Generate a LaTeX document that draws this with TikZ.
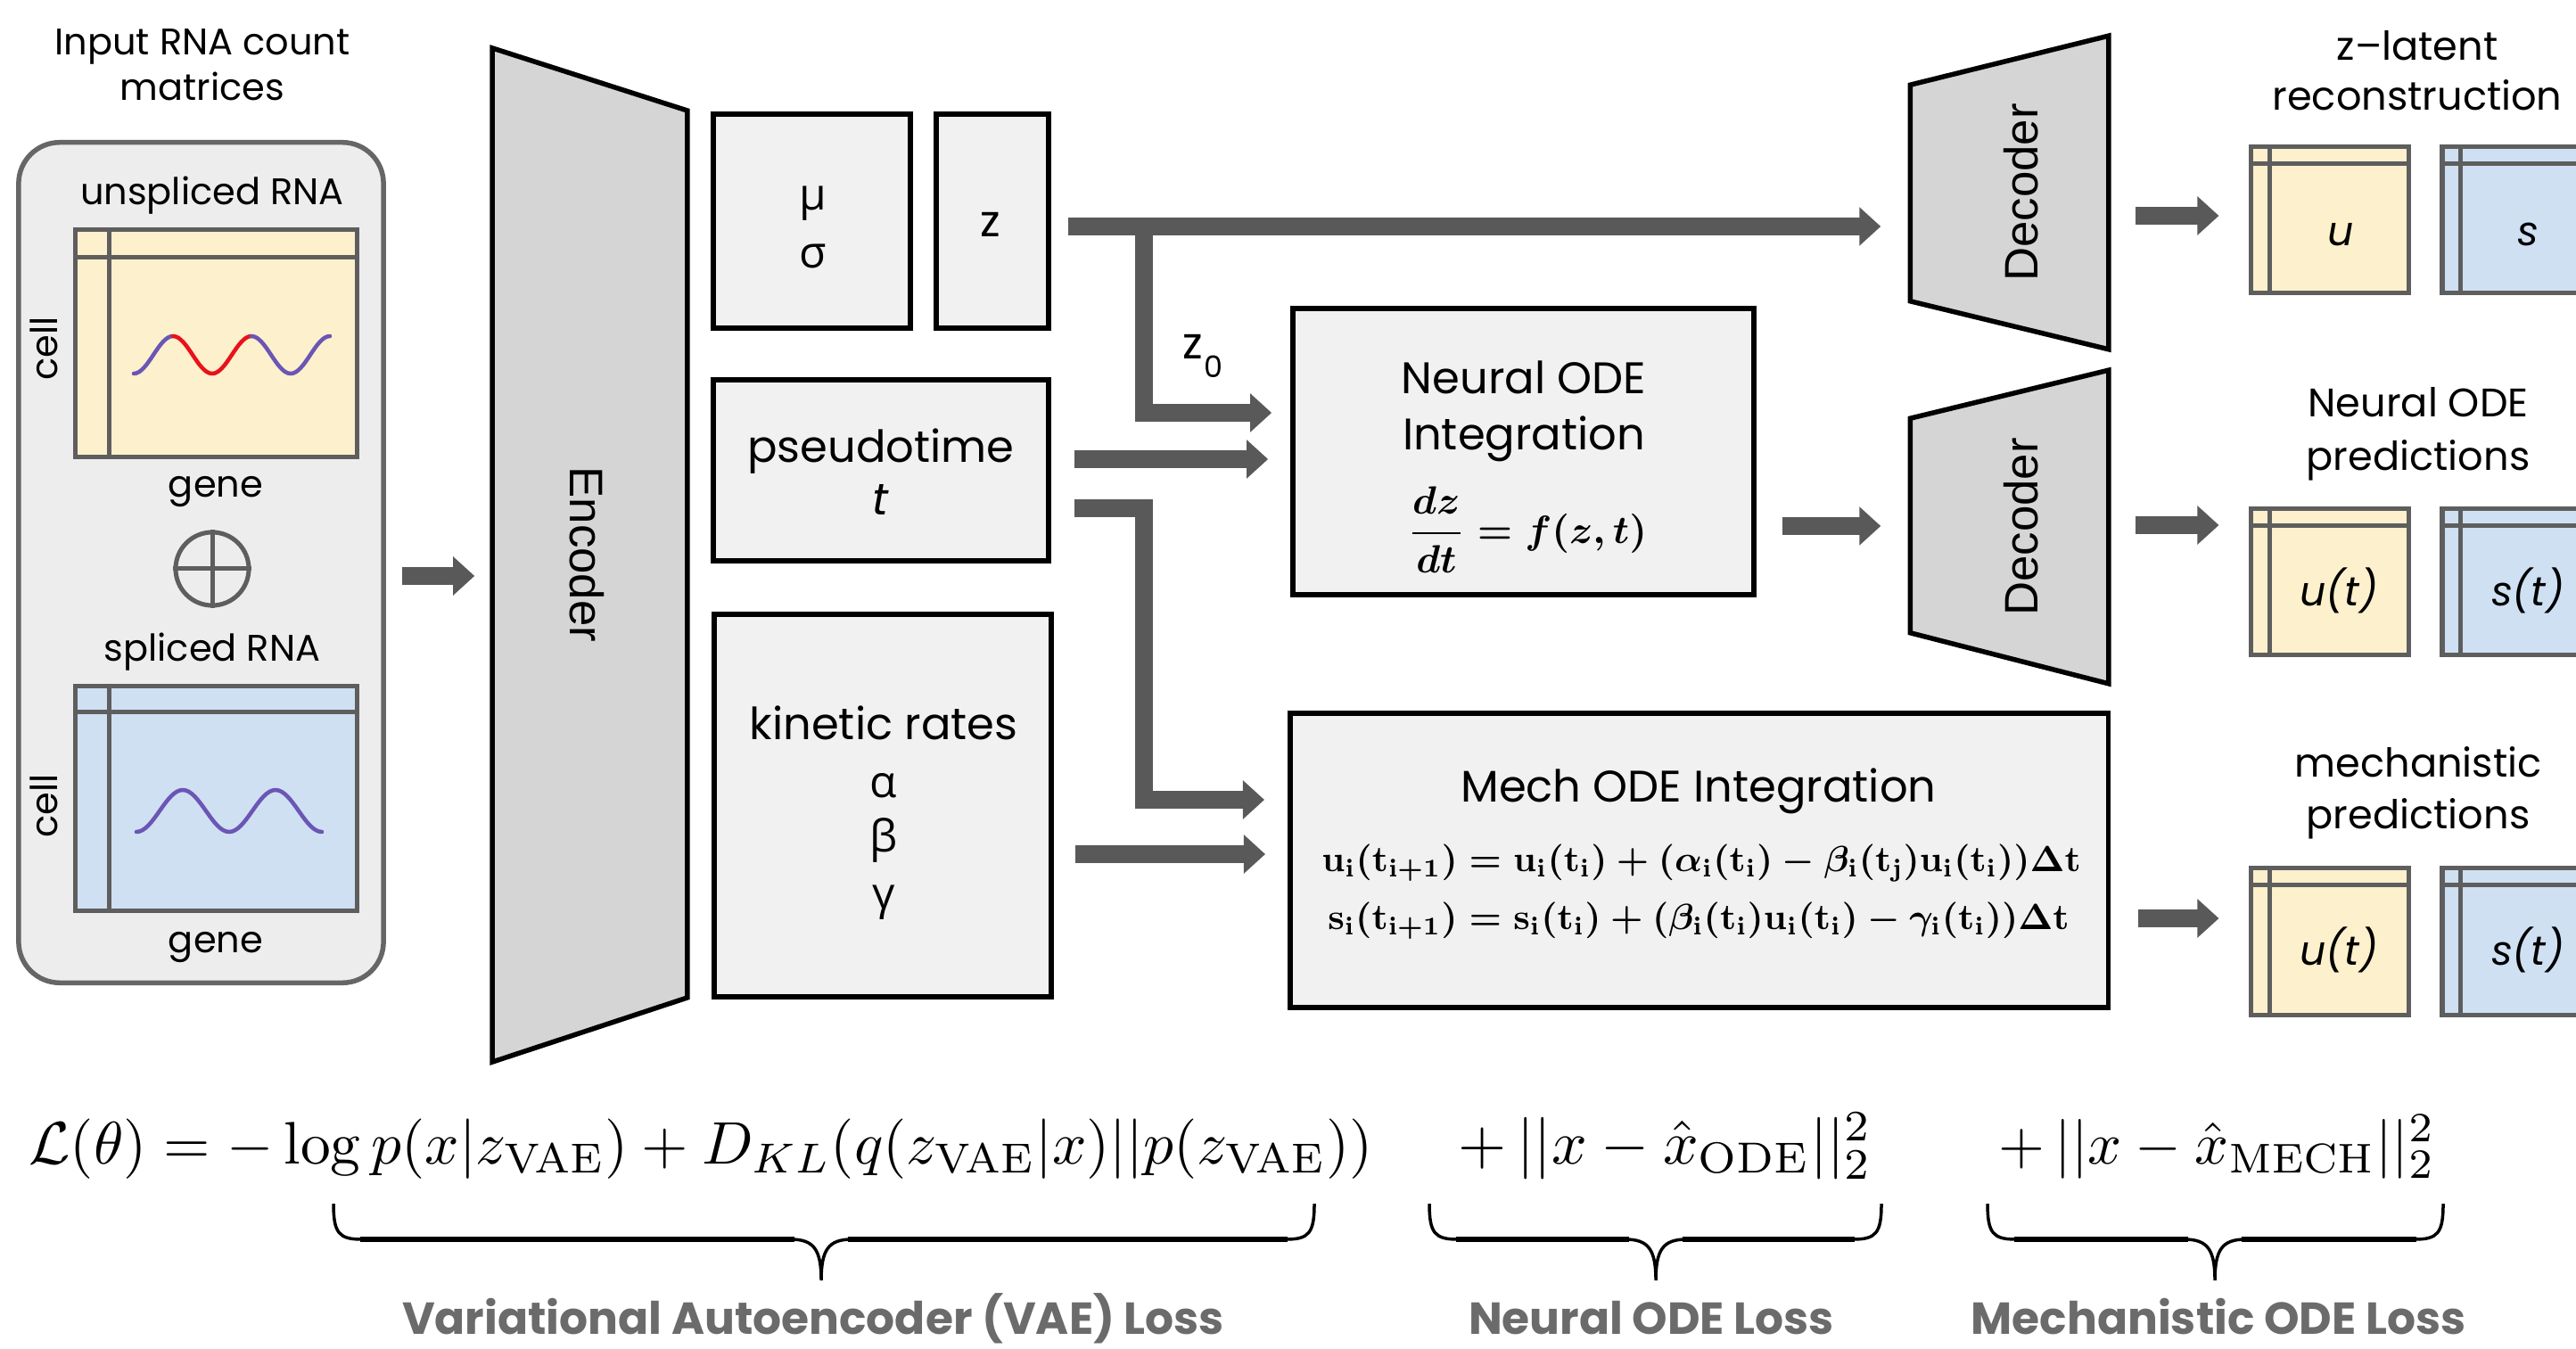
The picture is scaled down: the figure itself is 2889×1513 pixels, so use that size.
\documentclass[tikz,border=0pt]{standalone}
\usepackage[no-math]{fontspec}
\usepackage{amsmath}
\usepackage{graphicx}
\setmainfont{Poppins}
\newfontfamily\greekfont{Open Sans}
\newfontfamily\archfont{Liberation Sans}
\usetikzlibrary{arrows.meta,calc}

\definecolor{arrowgray}{HTML}{595959}
\definecolor{boxfill}{HTML}{F1F1F1}
\definecolor{panelfill}{HTML}{EDEDED}
\definecolor{panelline}{HTML}{666666}
\definecolor{trapfill}{HTML}{D5D5D5}
\definecolor{uyellow}{HTML}{FDF0CC}
\definecolor{sblue}{HTML}{CFE0F3}
\definecolor{gridline}{HTML}{5E5E5E}
\definecolor{wavepurple}{HTML}{6B55B5}
\definecolor{wavered}{HTML}{E8121B}
\definecolor{losstext}{HTML}{6B6B6B}

% grid lines of a count matrix: one column line, one row line
\newcommand\gridlines[3]{%
  \draw[mline] ([xshift=#2*0.01cm]#1.north west) -- ([xshift=#2*0.01cm]#1.south west);
  \draw[mline] ([yshift=-#3*0.01cm]#1.north west) -- ([yshift=-#3*0.01cm]#1.north east);}

% under-brace: left end, right end, tip
\newcommand\lossbrace[3]{%
  \draw[bracethin] (#1,1350) .. controls (#1,1383) and (#1+6,1390) .. (#1+32,1390)
     -- (#3-34,1390) .. controls (#3-8,1390) and (#3,1402) .. (#3,1436)
     .. controls (#3,1402) and (#3+8,1390) .. (#3+34,1390)
     -- (#2-32,1390) .. controls (#2-6,1390) and (#2,1383) .. (#2,1350);
  \draw[bracethick] (#1+30,1390) -- (#3-30,1390) (#3+30,1390) -- (#2-30,1390);}

\begin{document}
\begin{tikzpicture}[x=0.01cm,y=-0.01cm,
  blk/.style={draw=black,line width=0.055cm,fill=boxfill,inner sep=0pt},
  panel/.style={draw=panelline,line width=0.055cm,fill=panelfill,rounded corners=0.46cm,inner sep=0pt},
  mat/.style={draw=gridline,line width=0.05cm,inner sep=0pt},
  mline/.style={draw=gridline,line width=0.05cm},
  trap/.style={draw=black,line width=0.055cm,fill=trapfill,line join=miter},
  frame/.style={inner sep=0pt,draw=none},
  fat/.style={draw=arrowgray,line width=0.2cm,line join=miter,
              -{Triangle[length=0.24cm,width=0.42cm]}},
  wave/.style={line width=0.045cm,line cap=round},
  even/.style={inner sep=0pt,text height=0.72em,text depth=0.22em,yshift=-0.07cm},
  lbl/.style={even,font=\fontsize{11.8}{14}\selectfont},
  rlbl/.style={even,font=\fontsize{12.7}{15}\selectfont},
  btxt/.style={even,font=\fontsize{14.1}{17}\selectfont},
  outtxt/.style={even,font=\fontsize{13}{15}\selectfont\itshape},
  archlbl/.style={inner sep=0pt,font=\fontsize{15}{18}\selectfont\archfont},
  losslbl/.style={even,text=losstext,font=\fontsize{14.3}{17}\selectfont\bfseries},
  bracethin/.style={draw=black,line width=0.035cm},
  bracethick/.style={draw=black,line width=0.065cm},
]
\useasboundingbox (0,0) rectangle (2889,1513);
\clip (0,0) rectangle (2889,1513);
\fill[white] (0,0) rectangle (2889,1513);

% ---------------- input count matrices ----------------
\node[panel,minimum width=4.09cm,minimum height=9.42cm] (panel) at (225.5,631) {};
\node[lbl] (title1) at (227,46) {Input RNA count};
\node[lbl] (title2) at (227,97) {matrices};

\node[lbl] (unsplabel) at (238,214) {unspliced RNA};
\node[mat,fill=uyellow,minimum width=3.15cm,minimum height=2.54cm] (umat) at (242.5,385) {};
\gridlines{umat}{40}{33}
\node[lbl,rotate=90] (ucell) at (56,384) {cell};
\node[lbl] (ugene) at (242,542) {gene};
\draw[wave,wavepurple] (150,419) cos (172,398) sin (194,377);
\draw[wave,wavered] (194,377) cos (216,398) sin (238,419) cos (260,398) sin (282,377);
\draw[wave,wavepurple] (282,377) cos (304,398) sin (326,419) cos (348,398) sin (370,377);

\node[circle,draw=gridline,line width=0.05cm,minimum size=0.82cm,inner sep=0pt] (oplus) at (238,638) {};
\draw[mline] (oplus.north) -- (oplus.south) (oplus.west) -- (oplus.east);

\node[lbl] (spllabel) at (238,726) {spliced RNA};
\node[mat,fill=sblue,minimum width=3.15cm,minimum height=2.51cm] (smat) at (242.5,895.5) {};
\gridlines{smat}{40}{31}
\node[lbl,rotate=90] (scell) at (56,897) {cell};
\node[lbl] (sgene) at (242,1053) {gene};
\draw[wave,wavepurple] (153,933) cos (179,909.5) sin (205,886) cos (231,909.5) sin (257,933)
   cos (283,909.5) sin (309,886) cos (335,909.5) sin (361,933);

% ---------------- encoder ----------------
\node[frame,minimum width=2.17cm,minimum height=11.35cm] (enc) at (661.5,622.5) {};
\draw[trap] (enc.north west) -- ([yshift=-0.7cm]enc.north east)
   -- ([yshift=0.72cm]enc.south east) -- (enc.south west) -- cycle;
\node[archlbl,rotate=-90] (enclbl) at (658,622) {Encoder};

% ---------------- latent outputs of the encoder ----------------
\node[blk,minimum width=2.21cm,minimum height=2.4cm] (musig) at (910.5,248) {};
\node[btxt] (mulbl) at (912,220) {\greekfont μ};
\node[btxt] (sglbl) at (912,285) {\greekfont σ};
\node[blk,minimum width=1.26cm,minimum height=2.4cm] (zbox) at (1113,248) {};
\node[btxt] (zlbl) at (1111,250) {z};

\node[blk,minimum width=3.76cm,minimum height=2.03cm] (pseudo) at (988,527.5) {};
\node[btxt] (pseudo1) at (988,503) {pseudotime};
\node[btxt] (pseudo2) at (988,562) {\itshape t};

\node[blk,minimum width=3.78cm,minimum height=4.29cm] (kinetic) at (990,903.5) {};
\node[btxt] (kin1) at (991,814) {kinetic rates};
\node[btxt] (kin2) at (991,879) {\greekfont α};
\node[btxt] (kin3) at (991,940) {\greekfont β};
\node[btxt] (kin4) at (991,1004) {\greekfont γ};

% ---------------- integrators ----------------
\node[blk,minimum width=5.17cm,minimum height=3.21cm] (neural) at (1708.5,506.5) {};
\node[btxt] (neural1) at (1709,426) {Neural ODE};
\node[btxt] (neural2) at (1709,489) {Integration};
\node[inner sep=0pt] (neuraleq) at (1713,594)
   {\resizebox{2.68cm}{!}{\boldmath$\displaystyle\frac{dz}{dt} = f(z,t)$}};

\node[blk,minimum width=9.17cm,minimum height=3.3cm] (mech) at (1905.5,965) {};
\node[btxt] (mech1) at (1905,884) {Mech ODE Integration};
\node[inner sep=0pt] (mecheq1) at (1908,968)
   {\resizebox{8.51cm}{!}{\boldmath$\mathbf{u_i(t_{i+1})} = \mathbf{u_i(t_i)} + (\alpha_{\mathbf{i}}(\mathbf{t_i}) - \beta_{\mathbf{i}}(\mathbf{t_j})\mathbf{u_i(t_i)})\Delta\mathbf{t}$}};
\node[inner sep=0pt] (mecheq2) at (1905,1033)
   {\resizebox{8.31cm}{!}{\boldmath$\mathbf{s_i(t_{i+1})} = \mathbf{s_i(t_i)} + (\beta_{\mathbf{i}}(\mathbf{t_i})\mathbf{u_i(t_i)} - \gamma_{\mathbf{i}}(\mathbf{t_i}))\Delta\mathbf{t}$}};

% ---------------- decoders ----------------
\node[frame,minimum width=2.21cm,minimum height=3.5cm] (dec1) at (2253.5,216) {};
\draw[trap] ([yshift=-0.55cm]dec1.north west) -- (dec1.north east)
   -- (dec1.south east) -- ([yshift=0.54cm]dec1.south west) -- cycle;
\node[archlbl,rotate=90] (dec1lbl) at (2267,216) {Decoder};

\node[frame,minimum width=2.21cm,minimum height=3.5cm] (dec2) at (2253.5,591) {};
\draw[trap] ([yshift=-0.54cm]dec2.north west) -- (dec2.north east)
   -- (dec2.south east) -- ([yshift=0.57cm]dec2.south west) -- cycle;
\node[archlbl,rotate=90] (dec2lbl) at (2267,591) {Decoder};

% ---------------- reconstructed / predicted matrices ----------------
\node[rlbl] (rt1) at (2711,52) {z–latent};
\node[rlbl] (rt2) at (2711,108) {reconstruction};
\node[mat,fill=uyellow,minimum width=1.76cm,minimum height=1.63cm] (r1u) at (2613,246.5) {};
\gridlines{r1u}{23}{21}
\node[outtxt] (r1ut) at (2625,260) {u};
\node[mat,fill=sblue,minimum width=1.76cm,minimum height=1.63cm] (r1s) at (2827,246.5) {};
\gridlines{r1s}{23}{21}
\node[outtxt] (r1st) at (2835,260) {s};

\node[rlbl] (nt1) at (2712,452) {Neural ODE};
\node[rlbl] (nt2) at (2712,512) {predictions};
\node[mat,fill=uyellow,minimum width=1.76cm,minimum height=1.63cm] (r2u) at (2613,652.5) {};
\gridlines{r2u}{23}{21}
\node[outtxt] (r2ut) at (2623,664) {u(t)};
\node[mat,fill=sblue,minimum width=1.76cm,minimum height=1.63cm] (r2s) at (2827,652.5) {};
\gridlines{r2s}{23}{21}
\node[outtxt] (r2st) at (2835,664) {s(t)};

\node[rlbl] (mt1) at (2712,856) {mechanistic};
\node[rlbl] (mt2) at (2712,914) {predictions};
\node[mat,fill=uyellow,minimum width=1.76cm,minimum height=1.64cm] (r3u) at (2613,1056) {};
\gridlines{r3u}{23}{21}
\node[outtxt] (r3ut) at (2623,1067) {u(t)};
\node[mat,fill=sblue,minimum width=1.76cm,minimum height=1.64cm] (r3s) at (2827,1056) {};
\gridlines{r3s}{23}{21}
\node[outtxt] (r3st) at (2835,1067) {s(t)};

% ---------------- data flow ----------------
\draw[fat] ([shift={(18,15)}]panel.east) -- ([shift={(-20,23.5)}]enc.west);
\draw[fat] ([shift={(19,6)}]zbox.east) -- ([shift={(-33,38)}]dec1.west);
\draw[fat] ([shift={(104,6)}]zbox.east) |- ([shift={(-21,-43.5)}]neural.west);
\node[btxt] (z0z) at (1338,387) {z};
\node[inner sep=0pt,font=\fontsize{9.5}{11}\selectfont] (z0sub) at (1361,411) {0};
\draw[fat] ([shift={(26,-12.5)}]pseudo.east) -- ([shift={(-25,8.5)}]neural.west);
\draw[fat] ([shift={(26,42.5)}]pseudo.east) -- ++(78,0) |- ([shift={(-26,-68)}]mech.west);
\draw[fat] ([shift={(24,54.5)}]kinetic.east) -- ([shift={(-25,-7)}]mech.west);
\draw[fat] ([shift={(29,83.5)}]neural.east) -- ([shift={(-33,-1)}]dec2.west);
\draw[fat] ([shift={(30,26)}]dec1.east) -- ([shift={(-34,-4.5)}]r1u.west);
\draw[fat] ([shift={(30,-2)}]dec2.east) -- ([shift={(-34,-63.5)}]r2u.west);
\draw[fat] ([shift={(31,65)}]mech.east) -- ([shift={(-34,-26)}]r3u.west);

% ---------------- training objective ----------------
\node[inner sep=0pt,anchor=base] (lossvae) at (786,1305)
   {\resizebox{15.06cm}{!}{$\mathcal{L}(\theta) = -\log p(x|z_{\mathrm{VAE}}) + D_{KL}(q(z_{\mathrm{VAE}}|x)||p(z_{\mathrm{VAE}}))$}};
\node[inner sep=0pt,anchor=base] (lossode) at (1868,1305)
   {\resizebox{4.64cm}{!}{$+\,||x-\hat{x}_{\mathrm{ODE}}||_2^2$}};
\node[inner sep=0pt,anchor=base] (lossmech) at (2486.5,1305)
   {\resizebox{4.89cm}{!}{$+\,||x-\hat{x}_{\mathrm{MECH}}||_2^2$}};

\lossbrace{374}{1474}{921}
\lossbrace{1603}{2110}{1857}
\lossbrace{2229}{2740}{2484}

\node[losslbl] (vaelbl) at (912,1481) {Variational Autoencoder (VAE) Loss};
\node[losslbl] (odelbl) at (1852,1481) {Neural ODE Loss};
\node[losslbl] (mechlbl) at (2488,1481) {Mechanistic ODE Loss};
\end{tikzpicture}
\end{document}
